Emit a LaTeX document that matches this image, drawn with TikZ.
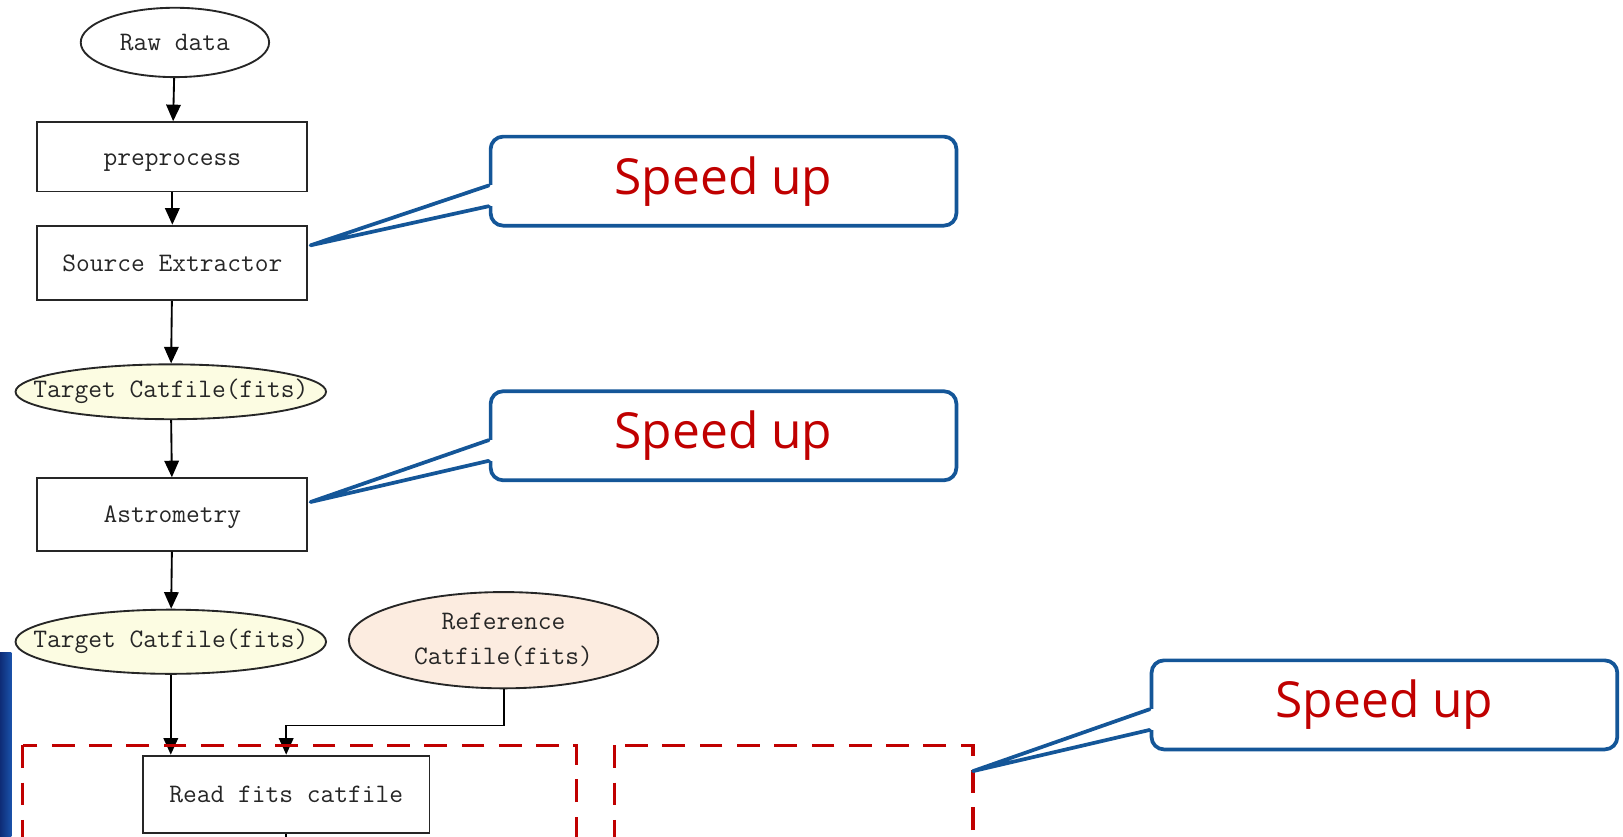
\documentclass[tikz,border=0pt]{standalone}
\usepackage{fontspec}
\usepackage{xcolor}
\usepackage{tikz}
\usetikzlibrary{positioning,shapes.geometric,arrows.meta,calc}
\newfontfamily\speedfont{Open Sans}
\definecolor{callblue}{RGB}{20,86,152}
\definecolor{darkred}{RGB}{192,0,0}
\definecolor{paleyellow}{RGB}{252,252,226}
\definecolor{palepeach}{RGB}{252,236,224}
\definecolor{slidenavy}{RGB}{14,44,118}
\definecolor{slideblue}{RGB}{26,82,170}

\begin{document}
\begin{tikzpicture}[x=0.5pt,y=-0.5pt,
    flow/.style={draw=black!85,line width=0.9pt,fill=white,text=black!85,align=center,inner sep=0pt,
        font=\ttfamily\fontsize{12.9}{17}\selectfont},
    proc/.style={flow,rectangle,minimum width=130.5pt,text height=9pt,text depth=1pt},
    data/.style={flow,ellipse},
    arr/.style={line width=0.9pt,-{Triangle[length=8pt,width=7pt]}},
    dashbox/.style={darkred,line width=1.5pt,dash pattern=on 11pt off 7pt},
    callbox/.style={draw=callblue,line width=1.8pt,rounded corners=6pt,fill=white,
        minimum width=225pt,minimum height=43pt,text=darkred,
        font=\speedfont\fontsize{24}{28}\selectfont},
    pointer/.style={callblue,line width=1.8pt,line join=round,line cap=round}]
    \useasboundingbox (0,0) rectangle (1568,808);
    \clip (0,0) rectangle (1568,808);

    % slide decoration on the left
    \shade[left color=slidenavy, right color=slideblue] (0,630) rectangle (11,808);

    % flow chart
    \node [data,minimum width=91pt,minimum height=33.5pt] (raw) at (169,41) {Raw data};
    \node [proc,minimum height=33.5pt] (pre) at (166.5,151.5) {preprocess};
    \node [proc,minimum height=36pt] (src) at (166.5,254) {Source Extractor};
    \node [data,fill=paleyellow,inner xsep=-16pt,minimum width=150pt,minimum height=26.5pt] (tgta) at (165,378.5) {Target Catfile(fits)};
    \node [proc,minimum height=35pt] (ast) at (166.5,497) {Astrometry};
    \node [data,fill=paleyellow,inner xsep=-16pt,minimum width=150pt,minimum height=31pt] (tgtb) at (165,620) {Target Catfile(fits)};
    \node [data,fill=palepeach,minimum width=149.5pt,minimum height=46.5pt] (ref) at (486.5,618.5) {Reference\\Catfile(fits)};
    \node [proc,minimum width=138.5pt,minimum height=37.5pt] (read) at (276.5,767.5) {Read fits catfile};
    \coordinate (readout) at (276.5,830);

    \draw[arr] (raw) -- (pre);
    \draw[arr] (pre) -- (src);
    \draw[arr] (src) -- (tgta);
    \draw[arr] (tgta) -- (ast);
    \draw[arr] (ast) -- (tgtb);
    \draw[arr] (tgtb.south) -- (tgtb.south |- read.north);
    \draw[arr] (ref.south) -- ++(0,35) -| (read.north);
    \draw[line width=0.9pt] (read.south) -- (readout);

    % dashed parts
    \draw[dashbox] (22,720) rectangle (557,840);
    \draw[dashbox] (594,720) rectangle (940,840);

    % callouts
    \node[callbox] (spa) at (699,175) {Speed up};
    \node[callbox] (spb) at (699,421) {Speed up};
    \node[callbox] (spc) at (1337.5,681) {Speed up};
    \coordinate (pa) at (300,237);
    \coordinate (pb) at (300,485);
    \coordinate (pc) at (940,745);
    \foreach \c/\p in {spa/pa,spb/pb,spc/pc}{
        \fill[white] ($(\c.north west)+(-3,49)$) rectangle ($(\c.north west)+(4,69)$);
        \draw[pointer] ($(\c.north west)+(0,49)$) -- (\p) -- ($(\c.north west)+(0,69)$);
    }
\end{tikzpicture}
\end{document}
